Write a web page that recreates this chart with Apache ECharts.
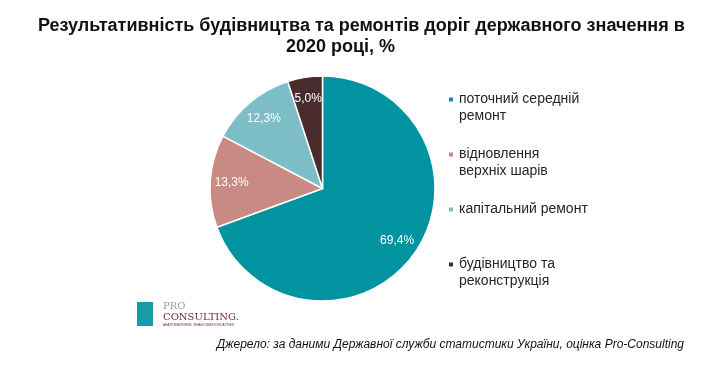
<!DOCTYPE html>
<html>
<head>
<meta charset="utf-8">
<script src="https://cdn.jsdelivr.net/npm/echarts@6/dist/echarts.min.js"></script>
<style>html,body{margin:0;padding:0;background:#fff}#c{width:713px;height:366px}</style>
</head>
<body>
<div id="c"></div>
<script>
const categories = ['поточний середній ремонт', 'відновлення верхніх шарів', 'капітальний ремонт', 'будівництво та реконструкція'];
const legendLabels = ['поточний середній\nремонт', 'відновлення\nверхніх шарів', 'капітальний ремонт\n ', 'будівництво та\nреконструкція'];
const shares = [69.4, 13.3, 12.3, 5.0];
const colors = ['#0194A0', '#C88A82', '#7DBEC6', '#4A2B2D'];
const titleLines = ['Результативність будівництва та ремонтів доріг державного значення в', '2020 році, %'];
const sourceText = 'Джерело: за даними Державної служби статистики України, оцінка Pro-Consulting';

const FONT = '"Liberation Sans", Arial, sans-serif';
const chart = echarts.init(document.getElementById('c'), null, {renderer: 'canvas'});
const pieData = categories.map((n, i) => ({name: n, value: shares[i], itemStyle: {color: colors[i]}}));
const labelMap = {};
categories.forEach((n, i) => labelMap[n] = ' \n' + legendLabels[i]);
const titleStyle = {fontFamily: FONT, fontSize: 18, fontWeight: 'bold', color: '#111', lineHeight: 20};

chart.setOption({
  animation: false,
  backgroundColor: '#fff',
  title: [
    {text: titleLines[0], left: 33, top: 11, textStyle: titleStyle},
    {text: titleLines[1], left: 281, top: 32, textStyle: titleStyle}
  ],
  legend: {
    orient: 'vertical',
    left: 447,
    top: 74,
    padding: 0,
    itemWidth: 6,
    itemHeight: 6,
    itemGap: 4,
    icon: 'rect',
    data: categories,
    formatter: n => labelMap[n],
    textStyle: {fontFamily: FONT, fontSize: 14, color: '#262626', lineHeight: 17},
    selectedMode: false
  },
  series: [
    {
      type: 'pie',
      center: [322.5, 188.5],
      radius: [0, 112.5],
      startAngle: 90,
      clockwise: true,
      data: pieData,
      itemStyle: {borderColor: '#fff', borderWidth: 1.5},
      label: {show: false},
      labelLine: {show: false},
      emphasis: {disabled: true},
      silent: true
    },
    {
      type: 'pie',
      center: [322.5, 188.5],
      radius: [76, 100],
      startAngle: 90,
      clockwise: true,
      data: pieData.map(d => ({name: d.name, value: d.value})),
      itemStyle: {color: 'rgba(0,0,0,0)', borderWidth: 0},
      label: {
        show: true,
        position: 'inside',
        formatter: p => p.value.toFixed(1).replace('.', ',') + '%',
        color: '#fff',
        fontFamily: FONT,
        fontSize: 12
      },
      labelLine: {show: false},
      emphasis: {disabled: true},
      silent: true
    }
  ],
  graphic: [
    {type: 'text', right: 29, top: 339, style: {text: sourceText, font: 'italic 12px ' + FONT, fill: '#111'}},
    {type: 'rect', shape: {x: 137, y: 302, width: 16, height: 24}, style: {fill: '#1A9AA5'}},
    {type: 'text', x: 163, y: 301, style: {text: 'PRO', font: '10px "DejaVu Serif", serif', fill: '#9A9A9A'}},
    {type: 'text', x: 163, y: 312, style: {text: 'CONSULTING.', font: '10px "DejaVu Serif", serif', fill: '#6B2E2E'}},
    {type: 'text', x: 163, y: 324, style: {text: 'АНАЛІТИКА РИНКІВ. ФІНАНСОВИЙ КОНСАЛТИНГ', font: '3px ' + FONT, fill: '#6B2E2E'}}
  ]
});
</script>
</body>
</html>
